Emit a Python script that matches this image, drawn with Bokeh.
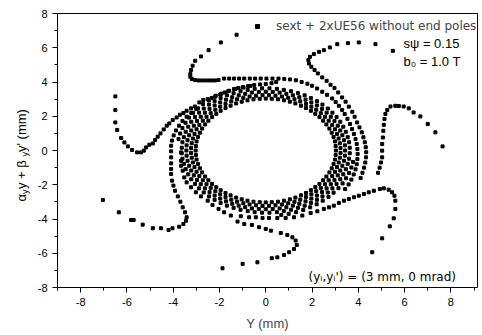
import math
from bokeh.plotting import figure
from bokeh.models import (Range1d, FixedTicker, Label, Legend, LegendItem, ColumnDataSource,
                          LinearAxis, PrintfTickFormatter)
from bokeh.embed import file_html
from bokeh.resources import INLINE

# ---- data (Y in mm, alpha*y+beta*y' in mm) ----
arm_left_x = [-6.50, -6.50, -6.50, -6.42, -6.25, -6.11, -5.96, -5.78, -5.56, -5.39, -5.27, -5.17, -5.03, -4.88,
              -4.78, -4.67, -4.55, -4.41, -4.28, -4.17, -4.02, -3.85, -3.71, -3.56, -3.42, -3.23, -3.06, -2.87,
              -2.70, -2.51, -2.34, -2.16, -1.97, -1.77, -1.58, -1.37, -1.18, -0.96, -0.76, -0.50, -0.25, 0.0, 0.25, 0.45]
arm_left_y = [3.16, 2.36, 1.64, 1.20, 0.73, 0.47, 0.24, 0.03, -0.11, -0.11, -0.01, 0.18, 0.34, 0.41,
              0.61, 0.81, 1.00, 1.23, 1.45, 1.58, 1.78, 1.93, 2.09, 2.19, 2.32, 2.46, 2.57, 2.81,
              2.95, 3.00, 3.06, 3.20, 3.27, 3.39, 3.49, 3.59, 3.65, 3.68, 3.76, 3.82, 3.86, 3.88, 3.93, 4.0]

arm_top_x = [-1.26, -1.94, -2.47, -2.80, -3.05, -3.16, -3.23, -3.26, -3.26, -3.19, -3.05, -2.90, -2.76, -2.62,
             -2.47, -2.33, -2.19, -2.04, -1.80, -1.58, -1.37, -1.15, -0.93, -0.69, -0.46, -0.22, 0.03, 0.29,
             0.55, 0.80, 1.05, 1.30, 1.55, 1.80, 2.0, 2.22, 2.44, 2.65, 2.87, 3.02, 3.16, 3.30, 3.41, 3.53,
             3.64, 3.73, 3.81, 3.88, 3.93, 3.96, 3.97, 3.96, 3.93, 3.88, 3.80, 3.70, 3.58, 3.43]
arm_top_y = [6.76, 6.31, 5.86, 5.49, 5.24, 4.95, 4.70, 4.46, 4.30, 4.17, 4.11, 4.09, 4.09, 4.09,
             4.09, 4.09, 4.09, 4.12, 4.20, 4.20, 4.20, 4.20, 4.20, 4.20, 4.20, 4.20, 4.20, 4.20,
             4.20, 4.18, 4.15, 4.10, 4.00, 3.90, 3.78, 3.62, 3.43, 3.25, 3.04, 2.83, 2.61, 2.37, 2.13, 1.85,
             1.55, 1.25, 0.96, 0.67, 0.38, 0.09, -0.20, -0.50, -0.80, -1.10, -1.40, -1.70, -1.98, -2.25]

arm_ur_x = [5.49, 4.74, 4.02, 3.55, 3.09, 2.77, 2.51, 2.30, 2.08, 1.91, 1.84, 1.87, 1.97, 2.11, 2.25, 2.44,
            2.63, 2.80, 2.97, 3.13, 3.30, 3.45, 3.59, 3.74, 3.84, 3.95, 4.05, 4.15, 4.22, 4.28, 4.32, 4.34,
            4.33, 4.30, 4.25, 4.18, 4.10]
arm_ur_y = [5.82, 6.21, 6.31, 6.27, 6.21, 6.02, 5.86, 5.76, 5.63, 5.47, 5.28, 5.08, 4.89, 4.70, 4.50, 4.27,
            4.07, 3.84, 3.65, 3.39, 3.10, 2.85, 2.56, 2.26, 1.97, 1.64, 1.35, 1.06, 0.77, 0.48, 0.19, -0.10,
            -0.40, -0.70, -1.00, -1.30, -1.60]

arm_right_x = [7.64, 7.33, 7.00, 6.68, 6.39, 6.18, 5.96, 5.75, 5.60, 5.39, 5.25, 5.17, 5.13, 5.10, 5.08,
               5.06, 5.03, 5.03, 5.03, 4.98, 4.92, 4.85]
arm_right_y = [0.24, 1.06, 1.55, 1.99, 2.22, 2.46, 2.57, 2.60, 2.61, 2.57, 2.36, 2.13, 1.84, 1.50, 1.15,
               0.76, 0.38, -0.01, -0.40, -0.70, -1.00, -1.30]

arm_lr_x = [4.60, 5.03, 5.36, 5.53, 5.60, 5.60, 5.56, 5.46, 5.31, 5.10, 4.93, 4.67, 4.45, 4.24, 4.02, 3.81,
            3.59, 3.38, 3.16, 2.94, 2.73, 2.51, 2.23, 1.94, 1.58, 1.22, 0.86, 0.50, 0.14, -0.14, -0.43, -0.72, -1.08]
arm_lr_y = [-5.94, -5.13, -4.43, -3.96, -3.41, -2.93, -2.64, -2.44, -2.29, -2.21, -2.25, -2.35, -2.44, -2.54,
            -2.64, -2.73, -2.83, -2.93, -3.06, -3.22, -3.32, -3.41, -3.55, -3.65, -3.80, -3.90, -3.94, -3.94,
            -3.94, -3.94, -3.90, -3.90, -3.84]

arm_bottom_x = [-1.87, -1.00, -0.36, 0.26, 0.50, 0.79, 1.01, 1.22, 1.34, 1.29, 1.15, 0.93, 0.65, 0.22, 0.00,
                -0.29, -0.60, -0.93, -1.22, -1.51, -1.80, -2.04, -2.30, -2.51, -2.80, -3.02, -3.23, -3.42,
                -3.52, -3.59, -3.66, -3.66, -3.66]
arm_bottom_y = [-6.88, -6.62, -6.53, -6.29, -6.24, -6.10, -5.94, -5.75, -5.52, -5.26, -5.07, -4.93, -4.82,
                -4.68, -4.58, -4.48, -4.35, -4.29, -4.15, -3.80, -3.61, -3.41, -3.18, -2.93, -2.68, -2.44,
                -2.15, -1.86, -1.57, -1.18, -0.89, -0.60, -0.11]

arm_ll_x = [-7.04, -6.35, -5.82, -5.71, -5.32, -4.88, -4.53, -4.20, -4.03, -3.74, -3.56, -3.45, -3.42, -3.49,
            -3.59, -3.69, -3.80, -3.92, -3.99, -4.05, -4.09, -4.09, -4.09, -4.09, -4.09, -4.09, -4.05, -3.98,
            -3.88, -3.75, -3.60, -3.42, -3.22, -3.00]
arm_ll_y = [-2.89, -3.61, -4.06, -4.06, -4.33, -4.54, -4.54, -4.64, -4.54, -4.45, -4.29, -4.10, -3.90, -3.61,
            -3.32, -2.99, -2.68, -2.35, -2.05, -1.76, -1.37, -1.08, -0.75, -0.40, -0.05, 0.28, 0.58, 0.88,
            1.17, 1.45, 1.72, 1.97, 2.20, 2.42]

# inner turns of the ring (estimated dot positions)
ring1_x = [3.03, 3.02, 2.99, 2.93, 2.85, 2.75, 2.62, 2.48, 2.32, 2.14, 1.95, 1.74, 1.52, 1.28, 1.04, 0.79, 0.53, 0.26,
           0, -0.26, -0.53, -0.79, -1.04, -1.28, -1.52, -1.74, -1.95, -2.14, -2.32, -2.48, -2.62, -2.75, -2.85, -2.93, -2.99, -3.02,
           -3.03, -3.02, -2.99, -2.93, -2.85, -2.75, -2.62, -2.48, -2.32, -2.14, -1.95, -1.74, -1.52, -1.28, -1.04, -0.79, -0.53, -0.26,
           0, 0.26, 0.53, 0.79, 1.04, 1.28, 1.52, 1.74, 1.95, 2.14, 2.32, 2.48, 2.62, 2.75, 2.85, 2.93, 2.99, 3.02]
ring1_y = [0, 0.26, 0.53, 0.79, 1.04, 1.28, 1.52, 1.74, 1.95, 2.14, 2.32, 2.48, 2.62, 2.75, 2.85, 2.93, 2.99, 3.02,
           3.03, 3.02, 2.99, 2.93, 2.85, 2.75, 2.62, 2.48, 2.32, 2.14, 1.95, 1.74, 1.52, 1.28, 1.04, 0.79, 0.53, 0.26,
           0, -0.26, -0.53, -0.79, -1.04, -1.28, -1.52, -1.74, -1.95, -2.14, -2.32, -2.48, -2.62, -2.75, -2.85, -2.93, -2.99, -3.02,
           -3.03, -3.02, -2.99, -2.93, -2.85, -2.75, -2.62, -2.48, -2.32, -2.14, -1.95, -1.74, -1.52, -1.28, -1.04, -0.79, -0.53, -0.26]
ring2_x = [3.23, 3.20, 3.15, 3.08, 2.99, 2.87, 2.72, 2.56, 2.38, 2.18, 1.97, 1.74, 1.49, 1.24, 0.97, 0.70, 0.42, 0.14,
           -0.14, -0.42, -0.70, -0.97, -1.24, -1.49, -1.74, -1.97, -2.18, -2.38, -2.56, -2.72, -2.87, -2.99, -3.08, -3.15, -3.20, -3.23,
           -3.23, -3.20, -3.15, -3.08, -2.99, -2.87, -2.72, -2.56, -2.38, -2.18, -1.97, -1.74, -1.49, -1.24, -0.97, -0.70, -0.42, -0.14,
           0.14, 0.42, 0.70, 0.97, 1.24, 1.49, 1.74, 1.97, 2.18, 2.38, 2.56, 2.72, 2.87, 2.99, 3.08, 3.15, 3.20, 3.23]
ring2_y = [0.14, 0.42, 0.70, 0.97, 1.24, 1.49, 1.74, 1.97, 2.18, 2.38, 2.56, 2.72, 2.87, 2.99, 3.08, 3.15, 3.20, 3.23,
           3.23, 3.20, 3.15, 3.08, 2.99, 2.87, 2.72, 2.56, 2.38, 2.18, 1.97, 1.74, 1.49, 1.24, 0.97, 0.70, 0.42, 0.14,
           -0.14, -0.42, -0.70, -0.97, -1.24, -1.49, -1.74, -1.97, -2.18, -2.38, -2.56, -2.72, -2.87, -2.99, -3.08, -3.15, -3.20, -3.23,
           -3.23, -3.20, -3.15, -3.08, -2.99, -2.87, -2.72, -2.56, -2.38, -2.18, -1.97, -1.74, -1.49, -1.24, -0.97, -0.70, -0.42, -0.14]
ring3_x = [3.43, 3.42, 3.38, 3.31, 3.22, 3.11, 2.97, 2.81, 2.63, 2.43, 2.21, 1.97, 1.72, 1.45, 1.17, 0.89, 0.60, 0.30,
           0, -0.30, -0.60, -0.89, -1.17, -1.45, -1.72, -1.97, -2.21, -2.43, -2.63, -2.81, -2.97, -3.11, -3.22, -3.31, -3.38, -3.42,
           -3.43, -3.42, -3.38, -3.31, -3.22, -3.11, -2.97, -2.81, -2.63, -2.43, -2.21, -1.97, -1.72, -1.45, -1.17, -0.89, -0.60, -0.30,
           0, 0.30, 0.60, 0.89, 1.17, 1.45, 1.72, 1.97, 2.21, 2.43, 2.63, 2.81, 2.97, 3.11, 3.22, 3.31, 3.38, 3.42]
ring3_y = [0, 0.30, 0.60, 0.89, 1.17, 1.45, 1.72, 1.97, 2.21, 2.43, 2.63, 2.81, 2.97, 3.11, 3.22, 3.31, 3.38, 3.42,
           3.43, 3.42, 3.38, 3.31, 3.22, 3.11, 2.97, 2.81, 2.63, 2.43, 2.21, 1.97, 1.72, 1.45, 1.17, 0.89, 0.60, 0.30,
           0, -0.30, -0.60, -0.89, -1.17, -1.45, -1.72, -1.97, -2.21, -2.43, -2.63, -2.81, -2.97, -3.11, -3.22, -3.31, -3.38, -3.42,
           -3.43, -3.42, -3.38, -3.31, -3.22, -3.11, -2.97, -2.81, -2.63, -2.43, -2.21, -1.97, -1.72, -1.45, -1.17, -0.89, -0.60, -0.30]
ring4_x = [3.63, 3.60, 3.54, 3.46, 3.35, 3.22, 3.06, 2.88, 2.68, 2.45, 2.21, 1.95, 1.68, 1.39, 1.09, 0.78, 0.48, 0.16,
           -0.16, -0.48, -0.78, -1.09, -1.39, -1.68, -1.95, -2.21, -2.45, -2.68, -2.88, -3.06, -3.22, -3.35, -3.46, -3.54, -3.60, -3.63,
           -3.63, -3.60, -3.54, -3.46, -3.35, -3.22, -3.06, -2.88, -2.68, -2.45, -2.21, -1.95, -1.68, -1.39, -1.09, -0.78, -0.48, -0.16,
           0.16, 0.48, 0.78, 1.09, 1.39, 1.68, 1.95, 2.21, 2.45, 2.68, 2.88, 3.06, 3.22, 3.35, 3.46, 3.54, 3.60, 3.63]
ring4_y = [0.16, 0.48, 0.78, 1.09, 1.39, 1.68, 1.95, 2.21, 2.45, 2.68, 2.88, 3.06, 3.22, 3.35, 3.46, 3.54, 3.60, 3.63,
           3.63, 3.60, 3.54, 3.46, 3.35, 3.22, 3.06, 2.88, 2.68, 2.45, 2.21, 1.95, 1.68, 1.39, 1.09, 0.78, 0.48, 0.16,
           -0.16, -0.48, -0.78, -1.09, -1.39, -1.68, -1.95, -2.21, -2.45, -2.68, -2.88, -3.06, -3.22, -3.35, -3.46, -3.54, -3.60, -3.63,
           -3.63, -3.60, -3.54, -3.46, -3.35, -3.22, -3.06, -2.88, -2.68, -2.45, -2.21, -1.95, -1.68, -1.39, -1.09, -0.78, -0.48, -0.16]
# outer turn, seen in the upper-left and lower-right parts of the ring
ring5_x = [-0.67, -0.99, -1.31, -1.62, -1.92, -2.20, -2.46, -2.71, -2.93, -3.14, -3.32, -3.47, -3.60, -3.70, -3.77,
           0.67, 0.99, 1.31, 1.62, 1.92, 2.20, 2.46, 2.71, 2.93, 3.14, 3.32, 3.47, 3.60, 3.70, 3.77]
ring5_y = [3.77, 3.70, 3.60, 3.47, 3.32, 3.14, 2.93, 2.71, 2.46, 2.20, 1.92, 1.62, 1.31, 0.99, 0.67,
           -3.77, -3.70, -3.60, -3.47, -3.32, -3.14, -2.93, -2.71, -2.46, -2.20, -1.92, -1.62, -1.31, -0.99, -0.67]

x_ticks = [-8, -6, -4, -2, 0, 2, 4, 6, 8]
y_ticks = [-8, -6, -4, -2, 0, 2, 4, 6, 8]
x_minor = [-9, -7, -5, -3, -1, 1, 3, 5, 7, 9]
y_minor = [-7, -5, -3, -1, 1, 3, 5, 7]
x_lo, x_hi = -9.0, 9.15
y_lo, y_hi = -8.0, 8.0

series_label = "sext + 2xUE56 without end poles"

all_x = (arm_left_x + arm_top_x + arm_ur_x + arm_right_x + arm_lr_x + arm_bottom_x + arm_ll_x
         + ring1_x + ring2_x + ring3_x + ring4_x + ring5_x)
all_y = (arm_left_y + arm_top_y + arm_ur_y + arm_right_y + arm_lr_y + arm_bottom_y + arm_ll_y
         + ring1_y + ring2_y + ring3_y + ring4_y + ring5_y)

FONT = "Liberation Sans"
WIDE = "DejaVu Sans"
W, H = 482, 335
FL, FR, FT, FB = 57, 477, 13, 287
sxp = (FR - FL) / (x_hi - x_lo)
syp = (FB - FT) / (y_hi - y_lo)

def X(px):
    return x_lo + (px - FL) / sxp

def Y(py):
    return y_hi - (py - FT) / syp

p = figure(width=W, height=H, x_range=Range1d(X(0), X(W)), y_range=Range1d(Y(H), Y(0)),
           output_backend="svg", toolbar_location=None,
           x_axis_location=None, y_axis_location=None,
           min_border_left=0, min_border_right=0, min_border_top=0, min_border_bottom=0)
p.background_fill_color = "white"
p.border_fill_color = "white"
p.outline_line_color = None
p.grid.visible = False

src = ColumnDataSource(dict(x=all_x, y=all_y))
r = p.scatter("x", "y", source=src, marker="square", size=3, color="black")


def style_axis(ax, labels=True):
    ax.axis_line_color = "black"
    ax.axis_line_width = 1
    ax.major_tick_line_color = "black"
    ax.minor_tick_line_color = "black"
    ax.major_tick_out = 5 if labels else 0
    ax.major_tick_in = 0
    ax.minor_tick_out = 3 if labels else 0
    ax.minor_tick_in = 0
    ax.major_label_text_font = FONT
    ax.major_label_text_font_size = "11px"
    ax.major_label_text_color = "black"
    ax.major_label_standoff = 5
    if not labels:
        ax.major_label_text_alpha = 0


xb = LinearAxis(fixed_location=y_lo, bounds=(x_lo, x_hi),
                ticker=FixedTicker(ticks=x_ticks, minor_ticks=x_minor),
                formatter=PrintfTickFormatter(format="%d"))
style_axis(xb)
xb.axis_label = "Y (mm)"
xb.axis_label_text_font = FONT
xb.axis_label_text_font_size = "13px"
xb.axis_label_text_font_style = "normal"
xb.axis_label_standoff = 7
p.add_layout(xb, "below")

yl = LinearAxis(fixed_location=x_lo, bounds=(y_lo, y_hi),
                ticker=FixedTicker(ticks=y_ticks, minor_ticks=y_minor),
                formatter=PrintfTickFormatter(format="%d"))
style_axis(yl)
p.add_layout(yl, "left")

xt = LinearAxis(fixed_location=y_hi, bounds=(x_lo, x_hi), ticker=FixedTicker(ticks=[]))
style_axis(xt, labels=False)
p.add_layout(xt, "above")
yr = LinearAxis(fixed_location=x_hi, bounds=(y_lo, y_hi), ticker=FixedTicker(ticks=[]))
style_axis(yr, labels=False)
p.add_layout(yr, "right")

# rotated y-axis label assembled from pieces (with subscripts)
pieces = [("α", 13, 0, 201), ("y", 9, 3.5, 193.5), (" y + β", 13, 0, 188.5),
          ("y", 9, 3.5, 156.0), ("y' (mm)", 13, 0, 151.5)]
for txt, fs, dx, py in pieces:
    p.add_layout(Label(x=X(21 + dx), y=Y(py), text=txt, angle=math.pi / 2,
                       text_align="left", text_baseline="middle",
                       text_font=FONT, text_font_size=f"{fs}px", text_color="black"))

p.add_layout(Label(x=X(403), y=Y(42.5), text="sψ = 0.15", text_font=FONT,
                   text_font_size="13px", text_baseline="middle", text_color="black"))
p.add_layout(Label(x=X(403), y=Y(61), text="b₀ = 1.0 T", text_font=FONT,
                   text_font_size="13px", text_baseline="middle", text_color="black"))
p.add_layout(Label(x=X(308), y=Y(276.7), text="(yᵢ,yᵢ') = (3 mm, 0 mrad)", text_font=WIDE,
                   text_font_size="12px", text_baseline="middle", text_color="black"))

legend = Legend(items=[LegendItem(label=series_label, renderers=[r])], location=(252, 302),
                padding=0, margin=0, spacing=0, glyph_width=10, glyph_height=10, label_height=10,
                label_standoff=14, border_line_color=None, background_fill_alpha=0,
                label_text_font=WIDE, label_text_font_size="12px")
p.add_layout(legend)

open("out.html", "w").write(file_html(p, INLINE))
